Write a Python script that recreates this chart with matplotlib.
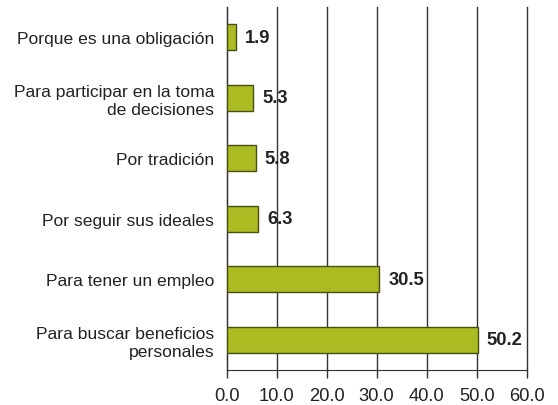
import numpy as np
import matplotlib.pyplot as plt

plt.rcParams['font.family'] = ['Liberation Sans', 'DejaVu Sans']

categories = ["Para buscar beneficios\npersonales", "Para tener un empleo",
              "Por seguir sus ideales", "Por tradición",
              "Para participar en la toma\nde decisiones", "Porque es una obligación"]
values = [50.2, 30.5, 6.3, 5.8, 5.3, 1.9]
ticks = [0, 10, 20, 30, 40, 50, 60]

fig = plt.figure(figsize=(5.58, 4.06), dpi=100)
ax = fig.add_axes([0.406, 0.086, 0.538, 0.894])

y = np.arange(len(values))
ax.barh(y, values, height=0.43, color='#abbb22', edgecolor='#4b4e14', linewidth=1, zorder=3)
for yi, v in zip(y, values):
    ax.text(v + 1.8, yi, f"{v:.1f}", va='center', ha='left', fontsize=13.2,
            fontweight='bold', color='#222222')

ax.set_xlim(0, 60)
ax.set_ylim(-0.5, len(values) - 0.5)
ax.set_xticks(ticks)
ax.set_xticklabels([f"{t:.1f}" for t in ticks], fontsize=13.2, color='#222222')
ax.set_yticks(y)
ax.set_yticklabels(categories, fontsize=12.6, color='#222222', linespacing=1.25)
ax.tick_params(axis='y', length=0, pad=9)
ax.tick_params(axis='x', length=6, width=1, color='#333333', pad=6)
ax.xaxis.grid(True, color='#333333', linewidth=1, zorder=0)
for gl in ax.get_xgridlines():
    gl.set_clip_on(False)
for s in ['top', 'right']:
    ax.spines[s].set_visible(False)
ax.spines['left'].set_color('#333333')
ax.spines['bottom'].set_color('#333333')

fig.savefig('out.png', dpi=100)
